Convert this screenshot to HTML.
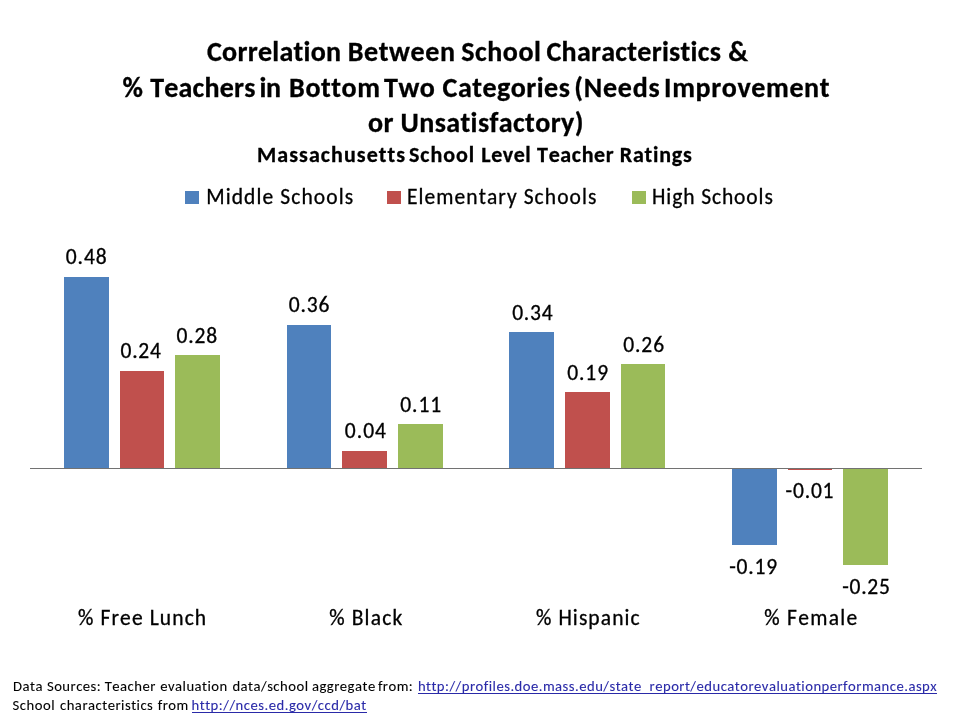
<!DOCTYPE html>
<html><head><meta charset="utf-8"><title>Correlation Between School Characteristics</title>
<style>
html,body{margin:0;padding:0;background:#fff;}
body{width:960px;height:720px;position:relative;overflow:hidden;}
.sw{position:absolute;width:14px;height:13px;}
.bar{position:absolute;}
.b{background:#4F81BD;}.r{background:#C0504D;}.g{background:#9BBB59;}
.axis{position:absolute;left:30px;width:892px;top:468px;height:1px;background:#727272;}
svg{position:absolute;left:0;top:0;will-change:transform;}
text{font-family:Carlito,"Liberation Sans",sans-serif;font-kerning:none;font-variant-ligatures:none;font-feature-settings:"liga" 0,"clig" 0,"kern" 0;white-space:pre;}
g{fill:#000;stroke:#000;}
.bd{font-weight:bold;}
.lk{fill:#2a2aa8;stroke:#2a2aa8;}
</style></head><body>
<div class="sw b" style="left:185px;top:191px"></div>
<div class="sw r" style="left:387px;top:191px"></div>
<div class="sw g" style="left:632px;top:191px"></div>
<div class="bar b" style="left:64px;width:45px;top:277px;height:191px"></div>
<div class="bar r" style="left:120px;width:44px;top:371px;height:97px"></div>
<div class="bar g" style="left:175px;width:45px;top:355px;height:113px"></div>
<div class="bar b" style="left:287px;width:44px;top:325px;height:143px"></div>
<div class="bar r" style="left:342px;width:45px;top:451px;height:17px"></div>
<div class="bar g" style="left:398px;width:45px;top:424px;height:44px"></div>
<div class="bar b" style="left:509px;width:45px;top:332px;height:136px"></div>
<div class="bar r" style="left:565px;width:45px;top:392px;height:76px"></div>
<div class="bar g" style="left:621px;width:44px;top:364px;height:104px"></div>
<div class="bar b" style="left:732px;width:45px;top:469px;height:76px"></div>
<div class="bar r" style="left:788px;width:44px;top:469px;height:1px"></div>
<div class="bar g" style="left:843px;width:45px;top:469px;height:96px"></div>
<div class="axis"></div>
<svg width="960" height="720" viewBox="0 0 960 720">
<g class="bd" font-size="28.00" stroke-width="0.30">
<text x="207.00" y="61" textLength="134.33" lengthAdjust="spacingAndGlyphs" style="letter-spacing:0.280px">Correlation</text>
<text x="347.72" y="61" textLength="107.83" lengthAdjust="spacingAndGlyphs" style="letter-spacing:0.607px">Between</text>
<text x="461.14" y="61" textLength="80.45" lengthAdjust="spacingAndGlyphs" style="letter-spacing:0.581px">School</text>
<text x="546.50" y="61" textLength="174.59" lengthAdjust="spacingAndGlyphs" style="letter-spacing:0.277px">Characteristics</text>
<text x="728.23" y="61" textLength="20.02" lengthAdjust="spacingAndGlyphs" style="letter-spacing:0.280px">&amp;</text>
</g>
<g class="bd" font-size="28.00" stroke-width="0.30">
<text x="122.59" y="97" textLength="21.00" lengthAdjust="spacingAndGlyphs" style="letter-spacing:0.584px">%</text>
<text x="150.28" y="97" textLength="105.22" lengthAdjust="spacingAndGlyphs" style="letter-spacing:0.184px">Teachers</text>
<text x="259.62" y="97" textLength="20.98" lengthAdjust="spacingAndGlyphs" style="letter-spacing:-0.466px">in</text>
<text x="289.12" y="97" textLength="91.50" lengthAdjust="spacingAndGlyphs" style="letter-spacing:0.584px">Bottom</text>
<text x="383.95" y="97" textLength="51.55" lengthAdjust="spacingAndGlyphs" style="letter-spacing:0.584px">Two</text>
<text x="442.58" y="97" textLength="127.75" lengthAdjust="spacingAndGlyphs" style="letter-spacing:0.487px">Categories</text>
<text x="574.14" y="97" textLength="86.33" lengthAdjust="spacingAndGlyphs" style="letter-spacing:0.794px">(Needs</text>
<text x="664.12" y="97" textLength="165.97" lengthAdjust="spacingAndGlyphs" style="letter-spacing:0.612px">Improvement</text>
</g>
<g class="bd" font-size="28.00" stroke-width="0.30">
<text x="368.00" y="132" textLength="25.84" lengthAdjust="spacingAndGlyphs" style="letter-spacing:0.412px">or</text>
<text x="400.56" y="132" textLength="183.34" lengthAdjust="spacingAndGlyphs" style="letter-spacing:0.412px">Unsatisfactory)</text>
</g>
<g class="bd" font-size="22.00" stroke-width="0.30">
<text x="257.00" y="162" textLength="149.03" lengthAdjust="spacingAndGlyphs" style="letter-spacing:1.063px">Massachusetts</text>
<text x="409.03" y="162" textLength="66.14" lengthAdjust="spacingAndGlyphs" style="letter-spacing:0.944px">School</text>
<text x="481.36" y="162" textLength="49.97" lengthAdjust="spacingAndGlyphs" style="letter-spacing:0.538px">Level</text>
<text x="537.12" y="162" textLength="77.17" lengthAdjust="spacingAndGlyphs" style="letter-spacing:0.632px">Teacher</text>
<text x="619.70" y="162" textLength="72.95" lengthAdjust="spacingAndGlyphs" style="letter-spacing:0.807px">Ratings</text>
</g>
<g class="rg" font-size="21.50" stroke-width="0.30">
<text x="206.19" y="204" textLength="68.12" lengthAdjust="spacingAndGlyphs" style="letter-spacing:1.095px">Middle</text>
<text x="280.25" y="204" textLength="73.95" lengthAdjust="spacingAndGlyphs" style="letter-spacing:1.095px">Schools</text>
</g>
<g class="rg" font-size="21.50" stroke-width="0.30">
<text x="407.00" y="204" textLength="110.75" lengthAdjust="spacingAndGlyphs" style="letter-spacing:1.071px">Elementary</text>
<text x="523.66" y="204" textLength="73.80" lengthAdjust="spacingAndGlyphs" style="letter-spacing:1.071px">Schools</text>
</g>
<g class="rg" font-size="21.50" stroke-width="0.30">
<text x="652.00" y="204" textLength="43.39" lengthAdjust="spacingAndGlyphs" style="letter-spacing:0.909px">High</text>
<text x="701.14" y="204" textLength="72.67" lengthAdjust="spacingAndGlyphs" style="letter-spacing:0.909px">Schools</text>
</g>
<g class="rg" font-size="21.50" stroke-width="0.30">
<text x="65.80" y="264" textLength="41.77" lengthAdjust="spacingAndGlyphs" style="letter-spacing:0.910px">0.48</text>
</g>
<g class="rg" font-size="21.50" stroke-width="0.30">
<text x="120.50" y="358" textLength="41.19" lengthAdjust="spacingAndGlyphs" style="letter-spacing:0.767px">0.24</text>
</g>
<g class="rg" font-size="21.50" stroke-width="0.30">
<text x="176.50" y="343" textLength="41.36" lengthAdjust="spacingAndGlyphs" style="letter-spacing:0.808px">0.28</text>
</g>
<g class="rg" font-size="21.50" stroke-width="0.30">
<text x="288.75" y="312" textLength="41.50" lengthAdjust="spacingAndGlyphs" style="letter-spacing:0.842px">0.36</text>
</g>
<g class="rg" font-size="21.50" stroke-width="0.30">
<text x="344.75" y="438" textLength="42.28" lengthAdjust="spacingAndGlyphs" style="letter-spacing:1.037px">0.04</text>
</g>
<g class="rg" font-size="21.50" stroke-width="0.30">
<text x="400.19" y="412" textLength="42.02" lengthAdjust="spacingAndGlyphs" style="letter-spacing:0.973px">0.11</text>
</g>
<g class="rg" font-size="21.50" stroke-width="0.30">
<text x="512.19" y="320" textLength="41.19" lengthAdjust="spacingAndGlyphs" style="letter-spacing:0.767px">0.34</text>
</g>
<g class="rg" font-size="21.50" stroke-width="0.30">
<text x="567.19" y="380" textLength="41.81" lengthAdjust="spacingAndGlyphs" style="letter-spacing:0.923px">0.19</text>
</g>
<g class="rg" font-size="21.50" stroke-width="0.30">
<text x="623.19" y="352" textLength="41.81" lengthAdjust="spacingAndGlyphs" style="letter-spacing:0.923px">0.26</text>
</g>
<g class="rg" font-size="21.50" stroke-width="0.30">
<text x="729.19" y="574" textLength="48.70" lengthAdjust="spacingAndGlyphs" style="letter-spacing:0.798px">-0.19</text>
</g>
<g class="rg" font-size="21.50" stroke-width="0.30">
<text x="785.59" y="498" textLength="48.73" lengthAdjust="spacingAndGlyphs" style="letter-spacing:0.805px">-0.01</text>
</g>
<g class="rg" font-size="21.50" stroke-width="0.30">
<text x="842.19" y="594" textLength="48.45" lengthAdjust="spacingAndGlyphs" style="letter-spacing:0.750px">-0.25</text>
</g>
<g class="rg" font-size="21.50" stroke-width="0.30">
<text x="78.00" y="625" textLength="16.50" lengthAdjust="spacingAndGlyphs" style="letter-spacing:1.118px">%</text>
<text x="100.45" y="625" textLength="43.27" lengthAdjust="spacingAndGlyphs" style="letter-spacing:1.118px">Free</text>
<text x="149.67" y="625" textLength="57.62" lengthAdjust="spacingAndGlyphs" style="letter-spacing:1.118px">Lunch</text>
</g>
<g class="rg" font-size="21.50" stroke-width="0.30">
<text x="329.19" y="625" textLength="16.55" lengthAdjust="spacingAndGlyphs" style="letter-spacing:1.167px">%</text>
<text x="351.75" y="625" textLength="51.64" lengthAdjust="spacingAndGlyphs" style="letter-spacing:1.167px">Black</text>
</g>
<g class="rg" font-size="21.50" stroke-width="0.30">
<text x="536.00" y="625" textLength="16.47" lengthAdjust="spacingAndGlyphs" style="letter-spacing:1.084px">%</text>
<text x="558.39" y="625" textLength="82.34" lengthAdjust="spacingAndGlyphs" style="letter-spacing:1.084px">Hispanic</text>
</g>
<g class="rg" font-size="21.50" stroke-width="0.30">
<text x="764.19" y="625" textLength="16.67" lengthAdjust="spacingAndGlyphs" style="letter-spacing:1.299px">%</text>
<text x="787.00" y="625" textLength="71.50" lengthAdjust="spacingAndGlyphs" style="letter-spacing:1.299px">Female</text>
</g>
<g class="rg" font-size="14.67" stroke-width="0.10">
<text x="13.00" y="691" textLength="29.91" lengthAdjust="spacingAndGlyphs" style="letter-spacing:0.483px">Data</text>
<text x="46.94" y="691" textLength="54.28" lengthAdjust="spacingAndGlyphs" style="letter-spacing:0.483px">Sources:</text>
<text x="104.70" y="691" textLength="51.14" lengthAdjust="spacingAndGlyphs" style="letter-spacing:0.483px">Teacher</text>
<text x="160.19" y="691" textLength="67.56" lengthAdjust="spacingAndGlyphs" style="letter-spacing:0.483px">evaluation</text>
<text x="232.42" y="691" textLength="76.08" lengthAdjust="spacingAndGlyphs" style="letter-spacing:0.483px">data/school</text>
<text x="311.98" y="691" textLength="63.70" lengthAdjust="spacingAndGlyphs" style="letter-spacing:0.483px">aggregate</text>
<text x="377.89" y="691" textLength="35.36" lengthAdjust="spacingAndGlyphs" style="letter-spacing:0.483px">from:</text>
<text x="417.92" y="691" textLength="223.89" lengthAdjust="spacingAndGlyphs" class="lk" style="letter-spacing:0.483px">http://profiles.doe.mass.edu/state</text>
<text x="641.81" y="692" class="lk" style="letter-spacing:0.483px">_</text>
<text x="649.61" y="691" textLength="287.53" lengthAdjust="spacingAndGlyphs" class="lk" style="letter-spacing:0.483px">report/educatorevaluationperformance.aspx</text>
</g>
<g class="rg" font-size="14.67" stroke-width="0.10">
<text x="12.59" y="710" textLength="42.47" lengthAdjust="spacingAndGlyphs" style="letter-spacing:0.502px">School</text>
<text x="59.98" y="710" textLength="93.39" lengthAdjust="spacingAndGlyphs" style="letter-spacing:0.502px">characteristics</text>
<text x="157.75" y="710" textLength="31.03" lengthAdjust="spacingAndGlyphs" style="letter-spacing:0.502px">from</text>
<text x="191.58" y="710" textLength="175.12" lengthAdjust="spacingAndGlyphs" class="lk" style="letter-spacing:0.502px">http://nces.ed.gov/ccd/bat</text>
</g>
<rect x="418" y="693" width="519" height="1" fill="#2a2aa8"/>
<rect x="192" y="712" width="175" height="1" fill="#2a2aa8"/>
</svg>
</body></html>
